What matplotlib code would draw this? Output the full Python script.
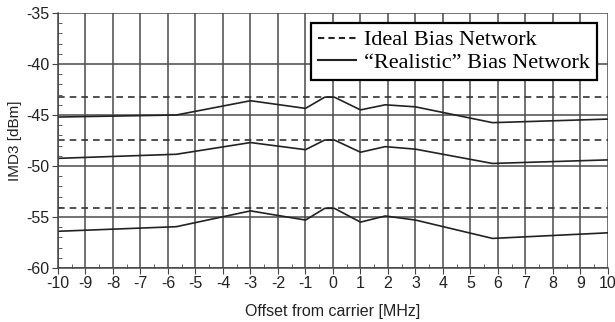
import numpy as np
import matplotlib.pyplot as plt
from matplotlib.ticker import MultipleLocator

# offset from carrier [MHz] where the realistic curves were evaluated
offset = [-10, -5.7, -3.0, -1.0, -0.3, 0.05, 1.0, 1.9, 3.0, 5.8, 10]

# IMD3 [dBm], three drive levels
real_hi = [-45.2, -45.0, -43.6, -44.35, -43.25, -43.25, -44.5, -44.0, -44.2, -45.75, -45.4]
real_mid = [-49.25, -48.85, -47.7, -48.4, -47.45, -47.45, -48.65, -48.1, -48.35, -49.75, -49.4]
real_lo = [-56.4, -55.95, -54.4, -55.3, -54.15, -54.15, -55.5, -54.9, -55.3, -57.1, -56.55]

# ideal bias network gives a flat IMD3 over offset
ideal = [-43.2, -47.45, -54.15]

fig = plt.figure(figsize=(6.15, 3.22), dpi=100)
ax = fig.add_axes([0.0943, 0.1677, 0.8943, 0.7919])

ax.set_xlim(-10, 10)
ax.set_ylim(-60, -35)

ax.xaxis.set_major_locator(MultipleLocator(1))
ax.xaxis.set_minor_locator(MultipleLocator(0.5))
ax.yaxis.set_major_locator(MultipleLocator(5))
ax.yaxis.set_minor_locator(MultipleLocator(1))
ax.grid(True, which='major', color='#4a4a4a', linewidth=1.1)
ax.set_axisbelow(True)

for lvl in ideal:
    ax.axhline(lvl, color='#333333', linestyle=(0, (4, 3)), linewidth=1.2)
for ys in (real_hi, real_mid, real_lo):
    ax.plot(offset, ys, color='#222222', linewidth=1.2)

for s in ax.spines.values():
    s.set_color('#444444')
    s.set_linewidth(1.1)
ax.spines['top'].set_visible(False)
ax.spines['right'].set_visible(False)

ax.tick_params(which='major', direction='out', length=4, color='#444444',
               labelsize=11.5, labelcolor='#222222', pad=2)
ax.tick_params(which='minor', direction='in', length=3, color='#444444')
ax.set_xticklabels([str(int(v)) for v in ax.get_xticks()], family='Liberation Sans')
ax.set_yticklabels([str(int(v)) for v in ax.get_yticks()], family='Liberation Sans')

ax.set_xlabel('Offset from carrier [MHz]', family='Liberation Sans', fontsize=11.5,
              color='#222222', labelpad=9)
ax.set_ylabel('IMD3 [dBm]', family='Liberation Sans', fontsize=11, color='#222222',
              labelpad=3)

# legend drawn with proxy lines
h1, = ax.plot([], [], color='#222222', linestyle=(0, (3, 2)), linewidth=1.5)
h2, = ax.plot([], [], color='#222222', linewidth=1.5)
leg = ax.legend([h1, h2], ['Ideal Bias Network', '\u201cRealistic\u201d Bias Network'],
                loc='upper right', bbox_to_anchor=(0.98, 0.96),
                prop={'family': 'Liberation Serif', 'size': 16},
                handlelength=1.7, handletextpad=0.4, labelspacing=0.1,
                borderpad=0.3, borderaxespad=0, fancybox=False, framealpha=1)
leg.get_frame().set_edgecolor('black')
leg.get_frame().set_linewidth(1.6)

fig.savefig('out.png', dpi=100)
